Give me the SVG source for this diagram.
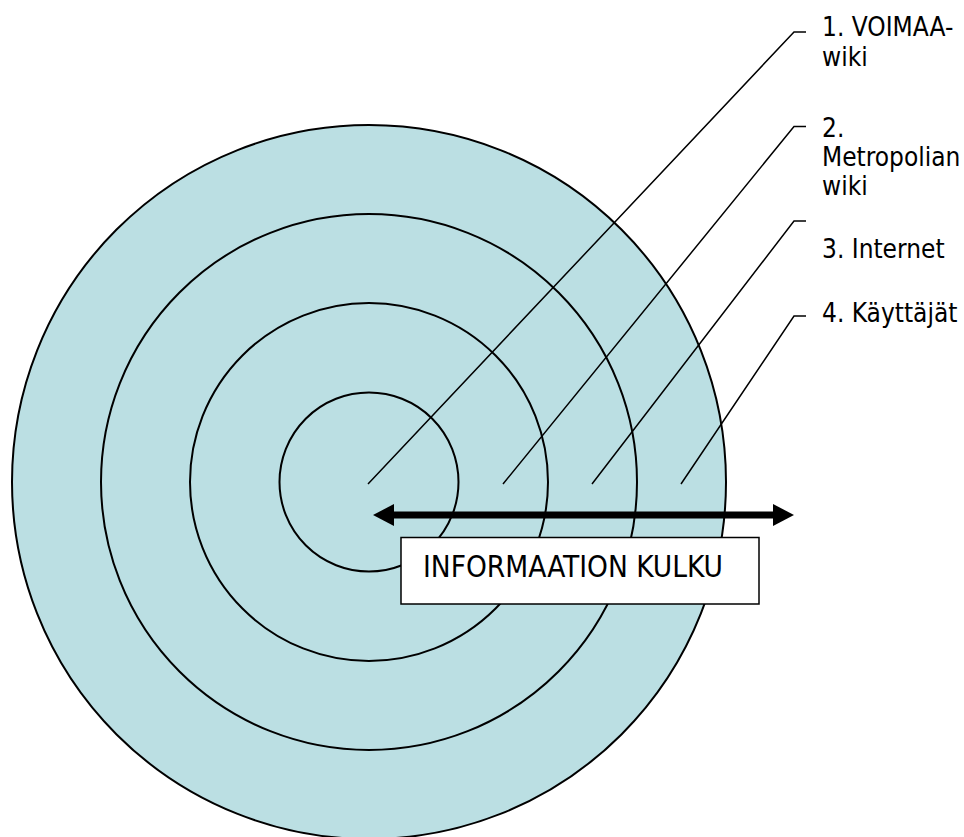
<svg xmlns="http://www.w3.org/2000/svg" width="964" height="837" viewBox="0 0 964 837">
  <style>
    .ring { fill: #BBDFE3; stroke: #000; stroke-width: 2; }
    .lead { fill: none; stroke: #000; stroke-width: 1.5; }
    .lbl { font-family: 'DejaVu Sans Condensed', 'DejaVu Sans', sans-serif; font-stretch: condensed; font-size: 26px; fill: #000; }
    .box { fill: #fff; stroke: #000; stroke-width: 1.5; }
    .flow { fill: none; stroke: #000; stroke-width: 7; }
  </style>
  <defs>
    <marker id="head" viewBox="0 0 21 22" markerWidth="21" markerHeight="22" refX="4" refY="11" orient="auto-start-reverse" markerUnits="userSpaceOnUse">
      <path d="M0,0 L21,11 L0,22 z" fill="#000"/>
    </marker>
  </defs>
  <rect width="964" height="837" fill="#fff"/>
  <g id="ring4"><circle class="ring" cx="369" cy="482" r="357"/></g>
  <g id="ring3"><circle class="ring" cx="369" cy="482" r="268"/></g>
  <g id="ring2"><circle class="ring" cx="369" cy="482" r="179"/></g>
  <g id="ring1"><circle class="ring" cx="369" cy="482" r="89.5"/></g>
  <g id="connectors">
    <polyline class="lead" points="368,484 794,32 806,32"/>
    <polyline class="lead" points="503,484 794,126.5 806,126.5"/>
    <polyline class="lead" points="592,484 794,221 806,221"/>
    <polyline class="lead" points="681,484 794,316 806,316"/>
    <line class="flow" x1="390" y1="515" x2="777" y2="515" marker-start="url(#head)" marker-end="url(#head)"/>
  </g>
  <g id="label1">
    <text class="lbl" x="822" y="36">1. VOIMAA-</text>
    <text class="lbl" x="822" y="66">wiki</text>
  </g>
  <g id="label2">
    <text class="lbl" x="822" y="137">2.</text>
    <text class="lbl" x="822" y="166">Metropolian</text>
    <text class="lbl" x="822" y="195">wiki</text>
  </g>
  <g id="label3">
    <text class="lbl" x="822" y="258">3. Internet</text>
  </g>
  <g id="label4">
    <text class="lbl" x="822" y="322">4. Käyttäjät</text>
  </g>
  <g id="flowbox">
    <rect class="box" x="401" y="537.5" width="358" height="66.5"/>
    <text class="lbl" x="423" y="577" style="font-size:29.5px">INFORMAATION KULKU</text>
  </g>
</svg>
